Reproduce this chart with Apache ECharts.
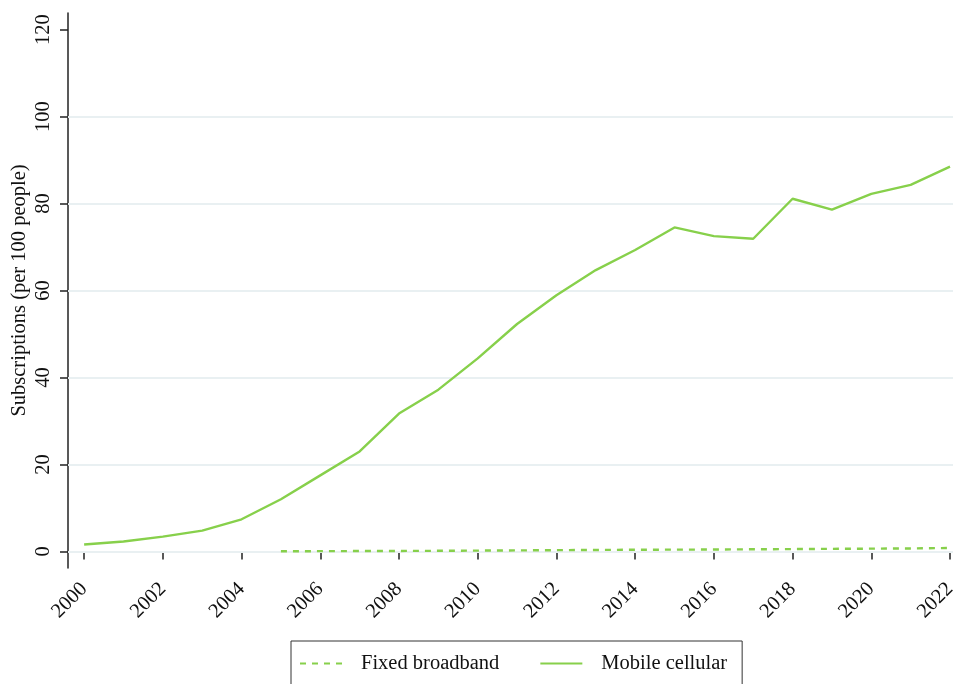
<!DOCTYPE html>
<html><head><meta charset="utf-8">
<script src="https://cdn.jsdelivr.net/npm/echarts@6/dist/echarts.min.js"></script>
<style>html,body{margin:0;padding:0;background:#fff}#c{width:953px;height:684px}</style>
</head><body><div id="c"></div>
<script>
const years = [2000,2001,2002,2003,2004,2005,2006,2007,2008,2009,2010,2011,2012,2013,2014,2015,2016,2017,2018,2019,2020,2021,2022];
const mobileCellular = [1.6,2.3,3.4,4.8,7.4,12.0,17.5,23.0,31.7,37.2,44.4,52.3,58.9,64.7,69.3,74.5,72.5,71.9,81.1,78.6,82.2,84.3,88.5];
const fixedYears = [2005,2006,2007,2008,2009,2010,2011,2012,2013,2014,2015,2016,2017,2018,2019,2020,2021,2022];
const fixedBroadband = [0.05,0.07,0.1,0.12,0.15,0.2,0.25,0.3,0.35,0.4,0.42,0.45,0.5,0.55,0.6,0.65,0.7,0.8];
const xTicks = [2000,2002,2004,2006,2008,2010,2012,2014,2016,2018,2020,2022];
const yTicks = [0,20,40,60,80,100,120];
const gridValues = [0,20,40,60,80,100];

const green = '#87d04b';
const font = 'Liberation Serif';
const fs = 20.5;
const chart = echarts.init(document.getElementById('c'));
chart.setOption({
  animation: false,
  textStyle: {fontFamily: font},
  grid: {left: 68, right: 0, top: 13, bottom: 116, outerBoundsMode: 'none', containLabel: false},
  xAxis: {
    type: 'value', min: 1999.59, max: 2022.076,
    splitLine: {show: false},
    axisLine: {lineStyle: {color: '#222', width: 1.5}},
    axisTick: {customValues: xTicks, length: 8, lineStyle: {color: '#222', width: 1.5}},
    axisLabel: {customValues: xTicks, rotate: 45, margin: 18, fontSize: fs, color: '#111', fontFamily: font,
      formatter: v => String(v)}
  },
  yAxis: {
    type: 'value', min: -3.8, max: 123.8,
    name: 'Subscriptions (per 100 people)', nameLocation: 'middle', nameGap: 38, nameMoveOverlap: false,
    nameTextStyle: {fontSize: fs, color: '#111', fontFamily: font},
    splitLine: {show: false},
    axisLine: {show: true, lineStyle: {color: '#222', width: 1.5}},
    axisTick: {show: true, customValues: yTicks, length: 8, lineStyle: {color: '#222', width: 1.5}},
    axisLabel: {customValues: yTicks, rotate: 90, margin: 14, fontSize: fs, color: '#111', fontFamily: font,
      formatter: v => String(v)}
  },
  legend: {
    left: 291, top: 641,
    borderColor: '#333', borderWidth: 1,
    padding: [12, 15, 40, 8],
    itemGap: 40, itemWidth: 42, itemHeight: 14,
    itemStyle: {opacity: 0},
    textStyle: {fontSize: fs, color: '#111', fontFamily: font, padding: [0, 0, 0, 14]},
    data: ['Fixed broadband', 'Mobile cellular']
  },
  series: [
    {
      name: 'Fixed broadband', type: 'line', showSymbol: false, symbol: 'none',
      data: fixedYears.map((y, i) => [y, fixedBroadband[i]]),
      lineStyle: {color: green, width: 2.4, type: [6, 6]}, itemStyle: {color: green},
      z: 3
    },
    {
      name: 'Mobile cellular', type: 'line', showSymbol: false, symbol: 'none',
      data: years.map((y, i) => [y, mobileCellular[i]]),
      lineStyle: {color: green, width: 2.4}, itemStyle: {color: green},
      z: 3,
      markLine: {
        silent: true, symbol: 'none', label: {show: false},
        lineStyle: {color: '#e9f0f2', width: 2, type: 'solid'},
        data: gridValues.map(v => ({yAxis: v})),
        z: 1
      }
    }
  ]
});
</script></body></html>
